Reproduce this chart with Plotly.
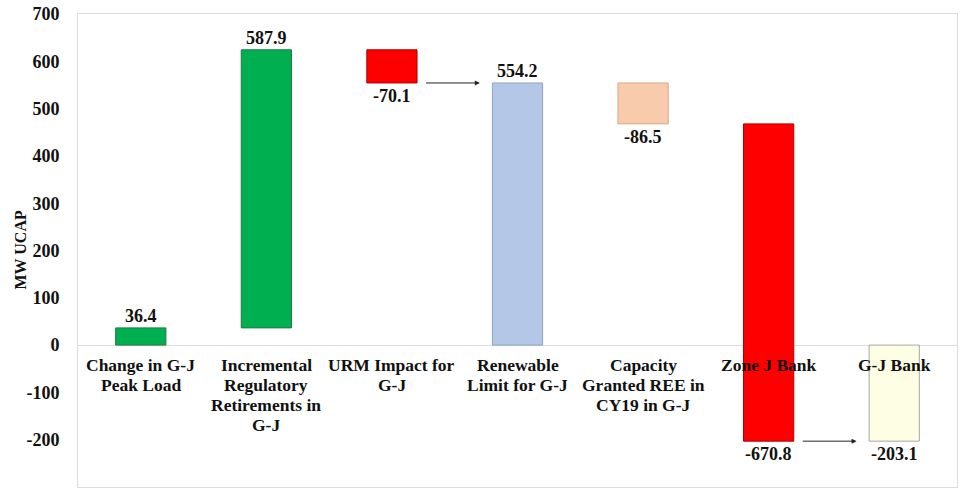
import plotly.graph_objects as go

# Waterfall steps for the G-J capacity bank
categories = [
    "Change in G-J<br>Peak Load",
    "Incremental<br>Regulatory<br>Retirements in<br>G-J",
    "URM Impact for<br>G-J",
    "Renewable<br>Limit for G-J",
    "Capacity<br>Granted REE in<br>CY19 in G-J",
    "Zone J Bank",
    "G-J Bank",
]
values = [36.4, 587.9, -70.1, 554.2, -86.5, -670.8, -203.1]
is_total = [False, False, False, True, False, False, True]
fill_colors = ["#00B050", "#00B050", "#FF0000", "#B4C7E7", "#F8CBAD", "#FF0000", "#FEFEE4"]
line_colors = ["#1E7A45", "#1E7A45", "#B00000", "#8EA3C4", "#D9A98A", "#B00000", "#A6A6A6"]
tick_values = [-300, -200, -100, 0, 100, 200, 300, 400, 500, 600, 700]
tick_labels = ["-300", "-200", "-100", "0", "100", "200", "300", "400", "500", "600", "700"]

# Build bar bases / heights from running total
bases, heights, running = [], [], 0.0
for v, tot in zip(values, is_total):
    if tot:
        bases.append(0.0)
        heights.append(v)
        running = v
    else:
        bases.append(running)
        heights.append(v)
        running += v

xs = list(range(len(categories)))
serif = "Liberation Serif"

fig = go.Figure(
    go.Bar(
        x=xs,
        y=heights,
        base=bases,
        width=0.4,
        marker=dict(color=fill_colors, line=dict(color=line_colors, width=1)),
        hoverinfo="skip",
    )
)

annotations = []
# value labels: above for rises/positive totals, below for drops/negative totals
for x, b, h, v in zip(xs, bases, heights, values):
    top = b + h if h >= 0 else b
    bottom = b if h >= 0 else b + h
    if v >= 0:
        annotations.append(dict(x=x, y=top, text=f"{v:.1f}", showarrow=False,
                                yanchor="bottom", yshift=0))
    else:
        annotations.append(dict(x=x, y=bottom, text=f"{v:.1f}", showarrow=False,
                                yanchor="top", yshift=-1))

# category labels sit inside the plot just under the zero line,
# one annotation per line for a tighter line spacing
for x, c in zip(xs, categories):
    for k, line in enumerate(c.split("<br>")):
        annotations.append(dict(x=x, y=0, text=line, showarrow=False,
                                yanchor="middle", yshift=-(20 + 20 * k),
                                font=dict(size=17.5)))

# connector arrows to the totals
for i_from, i_to in [(2, 3), (5, 6)]:
    level = bases[i_to] + heights[i_to]
    annotations.append(dict(x=i_to - 0.3, y=level, ax=i_from + 0.26, ay=level,
                            xref="x", yref="y", axref="x", ayref="y",
                            showarrow=True, arrowhead=2, arrowsize=1,
                            arrowwidth=1, arrowcolor="#222222", text=""))

# y-axis title
annotations.append(dict(xref="paper", yref="paper", x=0, y=0.5, xshift=-58,
                        xanchor="center", yanchor="middle",
                        text="MW UCAP", textangle=-90, showarrow=False,
                        font=dict(size=16)))

fig.update_layout(
    width=962,
    height=495,
    margin=dict(l=78, r=4, t=12, b=8),
    paper_bgcolor="white",
    plot_bgcolor="white",
    showlegend=False,
    font=dict(family=serif, size=18, color="#111111", weight="bold"),
    annotations=annotations,
    xaxis=dict(range=[-0.5, 6.5], showticklabels=False, showgrid=False,
               zeroline=False, showline=True, mirror=True, linecolor="#DCDCDC",
               ticks=""),
    yaxis=dict(range=[-300, 700], tickmode="array", tickvals=tick_values,
               ticktext=tick_labels, showgrid=False, zeroline=True,
               zerolinecolor="#DCDCDC", zerolinewidth=1, showline=True,
               mirror=True, linecolor="#DCDCDC", ticks="",
               ticklabelstandoff=14,
               tickfont=dict(family=serif, size=18, color="#111111", weight="bold")),
)

fig.write_html("out.html")
